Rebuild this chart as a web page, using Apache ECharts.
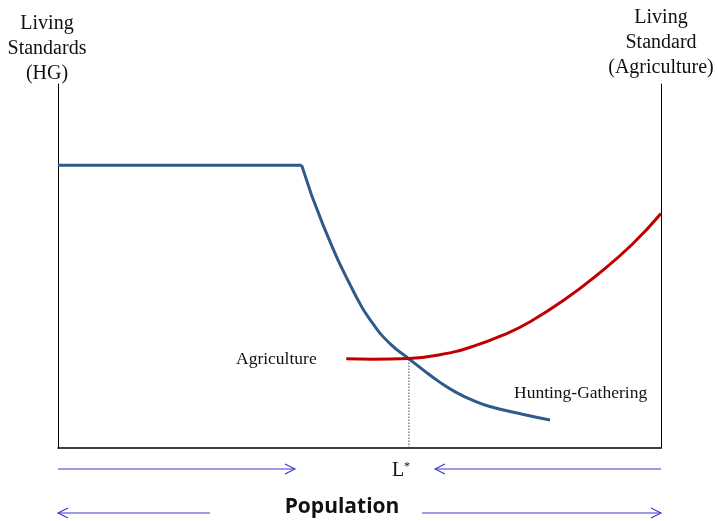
<!DOCTYPE html>
<html><head><meta charset="utf-8">
<script src="https://cdn.jsdelivr.net/npm/echarts@6/dist/echarts.min.js"></script>
<style>html,body{margin:0;padding:0;background:#fff}#c{width:718px;height:521px}</style>
</head><body><div id="c"></div>
<script>
// Population (x, 0-100) and living standard (y, 0-100)
const hgFlat = [[0, 77.7], [40.4, 77.7]];
const hgCurve = [[40.4, 77.7], [44.0, 61.1], [49.5, 41.4], [52.3, 34.0], [55.1, 28.6], [58.2, 24.5], [60.6, 21.4], [63.3, 18.1], [66.1, 15.2], [68.9, 13.0], [71.6, 11.4], [77.2, 9.2], [81.6, 7.7]];
const agCurve = [[47.8, 24.5], [52.2, 24.4], [58.2, 24.6], [63.3, 25.6], [68.8, 27.9], [74.5, 31.5], [78.3, 34.7], [83.8, 40.5], [89.3, 47.4], [95.2, 55.9], [100, 64.4]];
const lStar = [[58.2, 0], [58.2, 24.6]];

const chart = echarts.init(document.getElementById('c'));
const blue = '#2f5a8c', red = '#c00000', arrow = '#3a3acc';
function arrowHead(x, y, dir) {
  return {type: 'polyline', shape: {points: [[x - dir * 10, y - 5], [x, y], [x - dir * 10, y + 5]]}, style: {stroke: arrow, lineWidth: 1.1, fill: null}};
}
chart.setOption({
  animation: false,
  grid: {left: 58, right: 57, top: 84, bottom: 73},
  xAxis: {type: 'value', min: 0, max: 100, axisLine: {show: true, lineStyle: {color: '#000', width: 1.5}}, axisTick: {show: false}, axisLabel: {show: false}, splitLine: {show: false}},
  yAxis: [
    {type: 'value', min: 0, max: 100, position: 'left', axisLine: {show: true, lineStyle: {color: '#000', width: 1}}, axisTick: {show: false}, axisLabel: {show: false}, splitLine: {show: false}},
    {type: 'value', min: 0, max: 100, position: 'right', axisLine: {show: true, lineStyle: {color: '#000', width: 1}}, axisTick: {show: false}, axisLabel: {show: false}, splitLine: {show: false}}
  ],
  series: [
    {type: 'line', data: hgFlat, symbol: 'none', lineStyle: {color: blue, width: 3}},
    {type: 'line', data: hgCurve, symbol: 'none', smooth: 0.5, lineStyle: {color: blue, width: 3}},
    {type: 'line', data: agCurve, symbol: 'none', smooth: 0.5, lineStyle: {color: red, width: 3}},
    {type: 'line', data: lStar, symbol: 'none', z: 1, lineStyle: {color: '#444', width: 1, type: [1.5, 1.5]}}
  ],
  graphic: [
    {type: 'text', x: 47, y: 11, style: {text: 'Living\nStandards\n(HG)', font: '20px "Liberation Serif"', fill: '#111', align: 'center', lineHeight: 25}},
    {type: 'text', x: 661, y: 5, style: {text: 'Living\nStandard\n(Agriculture)', font: '20px "Liberation Serif"', fill: '#111', align: 'center', lineHeight: 25}},
    {type: 'text', x: 236, y: 350, style: {text: 'Agriculture', font: '17.5px "Liberation Serif"', fill: '#111'}},
    {type: 'text', x: 514, y: 384, style: {text: 'Hunting-Gathering', font: '17.5px "Liberation Serif"', fill: '#111'}},
    {type: 'text', x: 392, y: 461, style: {text: 'L', font: '20px "Liberation Serif"', fill: '#111'}},
    {type: 'text', x: 404, y: 461, style: {text: '*', font: '12px "Liberation Serif"', fill: '#111'}},
    {type: 'text', x: 342, y: 497, style: {text: 'Population', font: 'bold 21px "Open Sans"', fill: '#111', align: 'center'}},
    {type: 'line', shape: {x1: 58, y1: 469, x2: 295, y2: 469}, style: {stroke: arrow, lineWidth: 1.1}},
    arrowHead(295, 469, 1),
    {type: 'line', shape: {x1: 435, y1: 469, x2: 661, y2: 469}, style: {stroke: arrow, lineWidth: 1.1}},
    arrowHead(435, 469, -1),
    {type: 'line', shape: {x1: 58, y1: 513, x2: 210, y2: 513}, style: {stroke: arrow, lineWidth: 1.1}},
    arrowHead(58, 513, -1),
    {type: 'line', shape: {x1: 422, y1: 513, x2: 661, y2: 513}, style: {stroke: arrow, lineWidth: 1.1}},
    arrowHead(661, 513, 1)
  ]
});
</script></body></html>
